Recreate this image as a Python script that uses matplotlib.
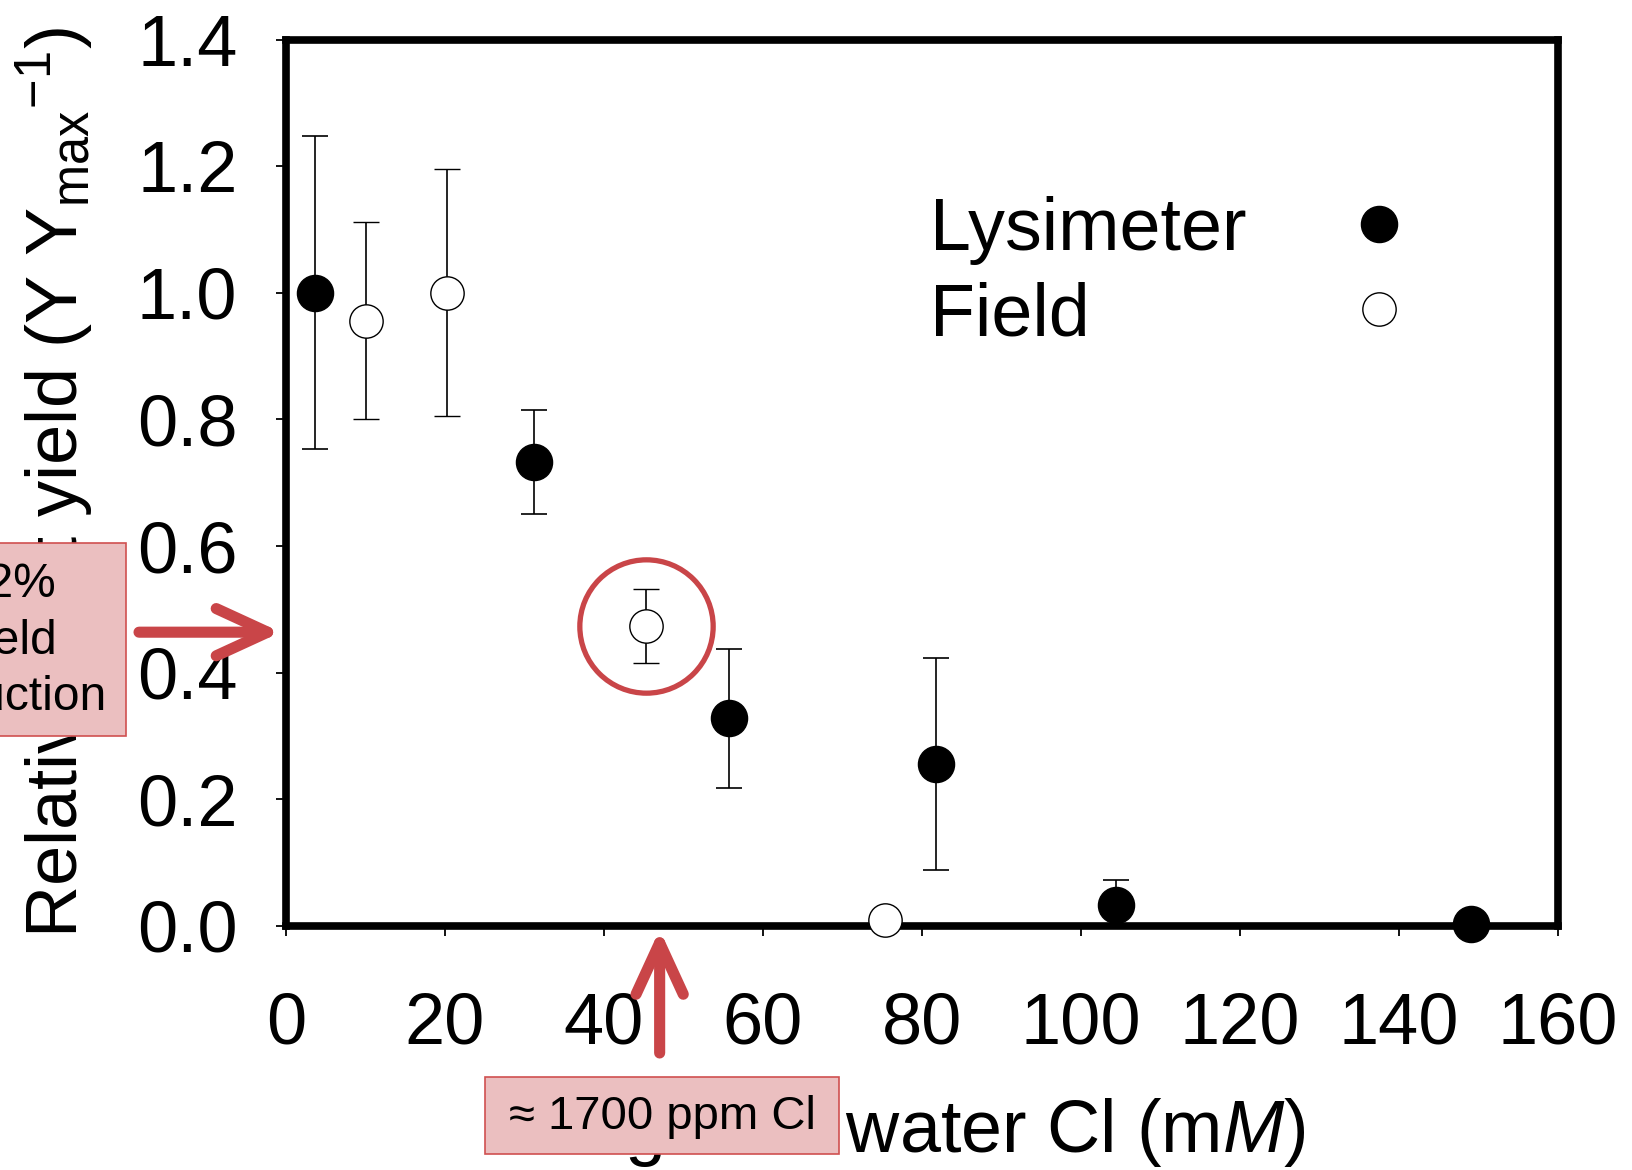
import matplotlib
matplotlib.use("Agg")
import matplotlib.pyplot as plt
from matplotlib.patches import Rectangle, ArrowStyle

plt.rcParams["font.family"] = ["Liberation Sans", "DejaVu Sans"]
plt.rcParams["mathtext.fontset"] = "custom"
plt.rcParams["mathtext.rm"] = "Liberation Sans"
plt.rcParams["mathtext.it"] = "Liberation Sans:italic"

# Lysimeter (gefuellte Punkte)
lys_cl = [3.7, 31.2, 55.7, 81.7, 104.4, 149.0]
lys_yield = [1.00, 0.733, 0.328, 0.256, 0.033, 0.003]
lys_err = [0.247, 0.082, 0.110, 0.168, 0.040, 0.0]

# Field (offene Punkte)
field_cl = [10.1, 20.3, 45.3, 75.3]
field_yield = [0.956, 1.00, 0.474, 0.010]
field_err = [0.156, 0.195, 0.058, 0.0]

x_ticks = [0, 20, 40, 60, 80, 100, 120, 140, 160]
y_ticks = [0.0, 0.2, 0.4, 0.6, 0.8, 1.0, 1.2, 1.4]
y_tick_labels = ["0.0", "0.2", "0.4", "0.6", "0.8", "1.0", "1.2", "1.4"]

cl_threshold = 47.0   # ~1700 ppm Cl
yield_mark = 0.464    # ~52 % Ertragsminderung

RED = "#C94548"
PINK = "#EBBFC0"
PINK_EDGE = "#D05050"

W, H = 1632, 1170
fig = plt.figure(figsize=(W / 100, H / 100), dpi=100)
ax = fig.add_axes([286 / W, 1 - 926 / H, (1558 - 286) / W, (926 - 39.5) / H])

lys = ax.errorbar(lys_cl, lys_yield, yerr=lys_err, fmt="o", color="black",
                  ms=26, mfc="black", mec="black", ecolor="black",
                  elinewidth=1.2, capsize=9.5, capthick=1.2, zorder=5)
fld = ax.errorbar(field_cl, field_yield, yerr=field_err, fmt="o", color="black",
                  ms=24, mfc="white", mec="black", mew=1.0, ecolor="black",
                  elinewidth=1.2, capsize=9.5, capthick=1.2, zorder=5)
lys[0].set_clip_on(False)
fld[0].set_clip_on(False)

# roter Kreis um den Feldpunkt bei ~1700 ppm
ax.plot(field_cl[2], field_yield[2], "o", ms=96, mfc="none", mec=RED,
        mew=3.8, zorder=6)

ax.set_xlim(0, 160)
ax.set_ylim(0, 1.4)
ax.set_xticks(x_ticks)
ax.set_yticks(y_ticks)
ax.set_yticklabels(y_tick_labels)
ax.tick_params(direction="out", length=7, width=1.3, labelsize=52)
ax.tick_params(axis="y", pad=28)
ax.tick_params(axis="x", pad=40)
for sp in ax.spines.values():
    sp.set_linewidth(5.5)

ax.set_xlabel("Irrigation water Cl (m$\\mathit{M}$)", fontsize=53, va="baseline")
ax.xaxis.set_label_coords(0.5, -0.2545)
ax.set_ylabel("Relative fruit yield (Y Y$_{\\mathrm{max}}$$^{\\mathrm{-1}}$)",
              fontsize=52, va="baseline")
ax.yaxis.set_label_coords(-0.1637, 0.5)

# Legende: zwei Eintraege, Text links buendig, Marker uebereinander
LEG_FS = 53
fig.canvas.draw()
renderer = fig.canvas.get_renderer()
widths = []
for lab in ["Lysimeter", "Field"]:
    t = fig.text(0, 0, lab, fontsize=LEG_FS)
    widths.append(t.get_window_extent(renderer).width)
    t.remove()
fs_px = LEG_FS * fig.dpi / 72

leg1 = ax.legend([lys[0]], ["Lysimeter"], loc="upper left",
                 bbox_to_anchor=(930 / W, 1 - 196 / H), bbox_transform=fig.transFigure,
                 frameon=False, markerfirst=False, fontsize=LEG_FS, handlelength=1.0,
                 handletextpad=1.3, borderpad=0, borderaxespad=0)
ax.add_artist(leg1)
ax.legend([fld[0]], ["Field"], loc="upper left",
          bbox_to_anchor=(930 / W, 1 - 281 / H), bbox_transform=fig.transFigure,
          frameon=False, markerfirst=False, fontsize=LEG_FS, handlelength=1.0,
          handletextpad=1.3 + (widths[0] - widths[1]) / fs_px,
          borderpad=0, borderaxespad=0)

# Pfeile
arrow = ArrowStyle("->", head_length=37, head_width=17)
ax.annotate("", xy=(-0.004, yield_mark), xycoords=("axes fraction", "data"),
            xytext=(139 / W, yield_mark), textcoords=("figure fraction", "data"),
            arrowprops=dict(arrowstyle=arrow, mutation_scale=1, color=RED,
                            lw=8, shrinkA=0, shrinkB=0, capstyle="round",
                            joinstyle="round"),
            annotation_clip=False)
ax.annotate("", xy=(cl_threshold, -0.004), xycoords=("data", "axes fraction"),
            xytext=(cl_threshold, 1 - 1053 / H), textcoords=("data", "figure fraction"),
            arrowprops=dict(arrowstyle=arrow, mutation_scale=1, color=RED,
                            lw=8, shrinkA=0, shrinkB=0, capstyle="round",
                            joinstyle="round"),
            annotation_clip=False)

# Textkaesten
fig.add_artist(Rectangle((-112 / W, 1 - 736 / H), (125.7 + 112) / W, (736 - 542.7) / H,
                         transform=fig.transFigure, facecolor=PINK,
                         edgecolor=PINK_EDGE, lw=1.2, zorder=5))
fig.text(8 / W, 1 - 641 / H, "52%\nyield\nreduction", ha="center", va="center",
         multialignment="center", fontsize=34.5, linespacing=1.33, zorder=6)

fig.add_artist(Rectangle((485 / W, 1 - 1154 / H), (839 - 485) / W, (1154 - 1077) / H,
                         transform=fig.transFigure, facecolor=PINK,
                         edgecolor=PINK_EDGE, lw=1.2, zorder=5))
fig.text(662 / W, 1 - 1117 / H, "≈ 1700 ppm Cl", ha="center", va="center",
         fontsize=34, zorder=6)

fig.savefig("out.png", dpi=100)
